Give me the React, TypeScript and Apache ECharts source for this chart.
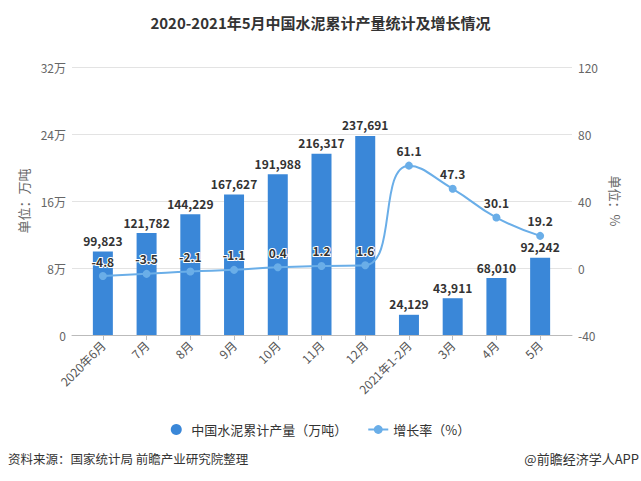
import React, { useEffect, useRef } from "react";
import * as echarts from "echarts";

const categories = ["2020年6月", "7月", "8月", "9月", "10月", "11月", "12月", "2021年1-2月", "3月", "4月", "5月"];
const outputValues = [99823, 121782, 144229, 167627, 191988, 216317, 237691, 24129, 43911, 68010, 92242];
const growthValues = [-4.8, -3.5, -2.1, -1.1, 0.4, 1.2, 1.6, 61.1, 47.3, 30.1, 19.2];
const barName = "中国水泥累计产量（万吨）";
const lineName = "增长率（%）";
const titleText = "2020-2021年5月中国水泥累计产量统计及增长情况";
const sourceText = "资料来源：国家统计局 前瞻产业研究院整理";
const brandText = "@前瞻经济学人APP";

const FONT = "'Noto Sans CJK SC', 'Noto Sans', sans-serif";

export default function App() {
  const ref = useRef<HTMLDivElement>(null);
  useEffect(() => {
    document.body.style.margin = "0";
    const chart = echarts.init(ref.current!, null, { renderer: "svg" });
    chart.setOption({
      animation: false,
      backgroundColor: "#fff",
      textStyle: { fontFamily: FONT },
      title: {
        text: titleText,
        left: "center",
        top: 10,
        textStyle: { fontSize: 15, fontWeight: "bold", color: "#333", fontFamily: FONT },
      },
      legend: {
        top: 418,
        left: "center",
        itemWidth: 20,
        itemHeight: 11,
        itemGap: 20,
        textStyle: { fontSize: 13, color: "#333", fontFamily: FONT },
        data: [{ name: barName, icon: "circle" }, { name: lineName }],
      },
      grid: [
        { left: 72, right: 69, top: 67, bottom: 146 },
        { left: 81, right: 79, top: 67, bottom: 146 },
      ],
      xAxis: [
        {
          gridIndex: 0,
          type: "value",
          min: 0,
          max: 1,
          axisLine: { show: true, onZero: false, lineStyle: { color: "#bbb" } },
          axisTick: { show: false },
          axisLabel: { show: false },
          splitLine: { show: false },
        },
        {
          gridIndex: 1,
          type: "category",
          data: categories,
          axisLine: { show: false },
          axisTick: { show: true, alignWithLabel: true, length: 5, lineStyle: { color: "#bbb" } },
          axisLabel: { rotate: 45, color: "#555", fontSize: 12, margin: 8, interval: 0, fontFamily: FONT },
        },
      ],
      yAxis: [
        {
          gridIndex: 0,
          type: "value",
          position: "left",
          min: 0,
          max: 320000,
          interval: 80000,
          name: "单位：万吨",
          nameLocation: "middle",
          nameGap: 38,
          nameTextStyle: { color: "#666", fontSize: 13, fontFamily: FONT },
          axisLine: { show: false },
          axisTick: { show: false },
          axisLabel: {
            color: "#666",
            fontSize: 12,
            margin: 6,
            formatter: (v: number) => (v === 0 ? "0" : v / 10000 + "万"),
          },
          splitLine: { show: true, lineStyle: { color: "#e3e3e3" } },
        },
        {
          gridIndex: 0,
          type: "value",
          position: "right",
          min: -40,
          max: 120,
          interval: 40,
          name: "单位：%",
          nameLocation: "middle",
          nameGap: 36,
          nameRotate: -90,
          nameTextStyle: { color: "#666", fontSize: 13, fontFamily: FONT },
          axisLine: { show: false },
          axisTick: { show: false },
          axisLabel: { color: "#666", fontSize: 12, margin: 6 },
          splitLine: { show: false },
        },
        { gridIndex: 1, type: "value", min: 0, max: 320000, show: false },
        { gridIndex: 1, type: "value", min: -40, max: 120, show: false },
      ],
      series: [
        {
          name: barName,
          type: "bar",
          xAxisIndex: 1,
          yAxisIndex: 2,
          data: outputValues,
          barWidth: 20,
          itemStyle: { color: "#3a87d8" },
          label: {
            show: true,
            position: "top",
            fontWeight: "bold",
            fontSize: 12,
            color: "#333",
            formatter: (p: any) => Number(p.value).toLocaleString("en-US"),
          },
        },
        {
          name: lineName,
          type: "line",
          xAxisIndex: 1,
          yAxisIndex: 3,
          data: growthValues,
          smooth: true,
          symbol: "circle",
          symbolSize: 8,
          lineStyle: { width: 2, color: "#6aaee8" },
          itemStyle: { color: "#6aaee8" },
          label: {
            show: true,
            position: "top",
            fontWeight: "bold",
            fontSize: 12,
            color: "#333",
            textBorderColor: "#fff",
            textBorderWidth: 2,
          },
        },
      ],
      graphic: [
        {
          type: "text",
          left: 8,
          top: 452,
          style: { text: sourceText, fontSize: 12.5, fill: "#333", fontFamily: FONT },
        },
        {
          type: "text",
          right: 2,
          top: 452,
          style: { text: brandText, fontSize: 13, fill: "#333", fontFamily: FONT },
        },
      ],
    });
    return () => chart.dispose();
  }, []);
  return <div ref={ref} style={{ width: 641, height: 481, position: "absolute", left: 0, top: 0 }} />;
}
